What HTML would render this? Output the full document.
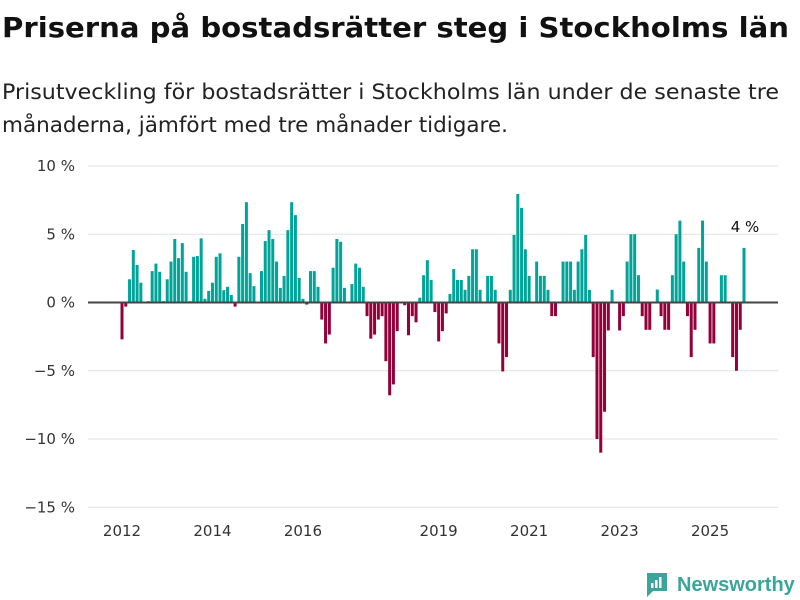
<!DOCTYPE html>
<html><head><meta charset="utf-8">
<style>
body{margin:0;background:#fff;font-family:"Liberation Sans",sans-serif;}
#wrap{position:relative;width:800px;height:600px;overflow:hidden;}
</style></head>
<body><div id="wrap">
<svg width="800" height="150" style="position:absolute;left:0;top:0">
<text x="2" y="37" font-family="DejaVu Sans, Liberation Sans, sans-serif" font-weight="bold" font-size="28" fill="#111" textLength="787" lengthAdjust="spacingAndGlyphs">Priserna på bostadsrätter steg i Stockholms län</text>
<text x="2" y="99" font-family="DejaVu Sans, Liberation Sans, sans-serif" font-size="21" fill="#222" textLength="777" lengthAdjust="spacingAndGlyphs">Prisutveckling för bostadsrätter i Stockholms län under de senaste tre</text>
<text x="2" y="132" font-family="DejaVu Sans, Liberation Sans, sans-serif" font-size="21" fill="#222" textLength="506" lengthAdjust="spacingAndGlyphs">månaderna, jämfört med tre månader tidigare.</text>
</svg>
<svg id="chart" width="800" height="600" style="position:absolute;left:0;top:0"></svg>
<div style="position:absolute;left:645px;top:571px;display:flex;align-items:center;">
<svg width="24" height="28"><path d="M2 2h20v18h-14l-6 6z" fill="#3aa59a"/><rect x="6" y="12" width="2.5" height="5" fill="#fff"/><rect x="10" y="9" width="2.5" height="8" fill="#fff"/><rect x="14" y="6" width="2.5" height="11" fill="#fff"/></svg>
<span style="margin-left:8px;font-size:20px;font-weight:bold;color:#3aa59a;">Newsworthy</span>
</div>
</div>
<script>
const startYear = 2012;
const values = [
-2.7,-0.3,1.7,3.85,2.75,1.45,0.05,0.1,2.3,2.85,2.25,0.1,1.7,3.0,4.65,3.25,4.35,2.25,0.1,3.35,3.4,4.7,0.27,0.85,1.45,3.35,3.6,0.9,1.15,0.55,-0.3,3.35,5.75,7.35,2.15,1.2,0,2.3,4.5,5.3,4.65,
3.0,1.07,1.95,5.3,7.35,6.4,1.8,0.27,-0.15,2.3,2.3,1.15,-1.25,-3.0,-2.35,2.55,4.65,4.45,1.07,0,1.35,2.85,2.55,1.15,-1.0,-2.65,-2.35,-1.25,-1.0,-4.3,-6.8,-6.0,-2.1,0,-0.2,-2.4,-1.0,-1.45,0.35,2.0,3.1,1.65,-0.7,
-2.85,-2.1,-0.8,0.63,2.45,1.65,1.65,0.93,1.95,3.9,3.9,0.93,0,1.95,1.95,0.93,-3.0,-5.05,-4.0,0.93,4.95,7.95,6.93,3.9,1.95,0,3.0,1.95,1.95,0.93,-1.0,-1.0,0,3.0,3.0,3.0,0.93,3.0,3.9,4.95,0.93,-4.0,
-10.0,-11.0,-8.0,-2.05,0.93,0,-2.05,-1.0,3.0,5.0,5.0,2.0,-1.0,-2.0,-2.0,0,0.95,-1.0,-2.0,-2.0,2.0,5.0,6.0,3.0,-1.0,-4.0,-2.0,4.0,6.0,3.0,-3.0,-3.0,0,2.0,2.0,0,-4.0,-5.0,-2.0,4.0
];
const yTicks = [10,5,0,-5,-10,-15];
const yTickLabels = ["10 %","5 %","0 %","−5 %","−10 %","−15 %"];
const xTickYears = [2012,2014,2016,2019,2021,2023,2025];
const lastLabel = "4 %";

const NS="http://www.w3.org/2000/svg";
const svg=document.getElementById('chart');
const step = (744-122)/(values.length-1);
function y(v){return 302.5 - v*13.65;}
function x(i){return 122 + i*step;}
function mk(t,a){const e=document.createElementNS(NS,t);for(const k in a)e.setAttribute(k,a[k]);svg.appendChild(e);return e;}
yTicks.forEach((t,k)=>{
  if(t!==0){const g=mk('line',{x1:88,x2:778,y1:y(t),y2:y(t),stroke:'#e2e2e2','stroke-width':1});
  
  }
  const l=mk('text',{x:75,y:y(t)+5,'text-anchor':'end','font-size':15,fill:'#333','font-family':'DejaVu Sans, sans-serif'});
  l.textContent=yTickLabels[k];
  
  
});
values.forEach((v,i)=>{
  const r=mk('rect',{x:x(i)-1.5,width:3,y:Math.min(y(v),y(0)),height:Math.abs(y(v)-y(0)),fill:v>=0?'#00a498':'#93003a'});
  
  
});
const z=mk('line',{x1:88,x2:778,y1:y(0),y2:y(0),stroke:'#444','stroke-width':2});


xTickYears.forEach(yr=>{
  const t=mk('text',{x:x((yr-startYear)*12),y:536,'text-anchor':'middle','font-size':15,fill:'#333','font-family':'DejaVu Sans, sans-serif'});
  t.textContent=yr;
  
  
});
const n=values.length-1;
const a=mk('text',{x:x(n)+1,y:y(values[n])-16,'text-anchor':'middle','font-size':15,fill:'#111','font-family':'DejaVu Sans, sans-serif'});
a.textContent=lastLabel;


</script>
</body></html>
